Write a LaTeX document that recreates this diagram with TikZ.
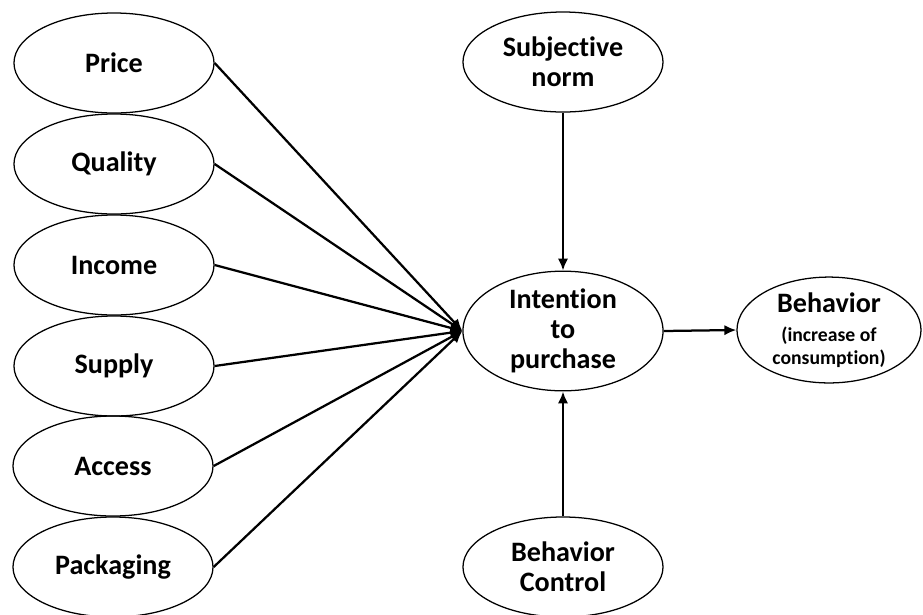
\documentclass[tikz,border=0pt]{standalone}
\usepackage{fontspec}
\setmainfont{Carlito}[Ligatures={NoCommon,NoRare,NoContextual}]
\usepackage{tikz}
\usetikzlibrary{shapes.geometric, positioning, arrows.meta}

\tikzset{
  factor/.style={ellipse, draw, line width=0.9pt, minimum width=5cm, minimum height=2.5cm,
    inner sep=0pt, align=center, font=\fontsize{20}{21.5}\selectfont\bfseries},
  link/.style={line width=1.6pt, -{Latex[length=3mm, width=2.6mm]}}
}
\newcommand{\subline}[1]{{\fontsize{14}{15}\selectfont #1}}

\begin{document}
\begin{tikzpicture}[x=0.025cm, y=-0.025cm]

		\useasboundingbox (0,0) rectangle (923,614);

		% left side factors
		\node[factor] (price) at (114,63) {Price};
		\node[factor] (quality) at (114,164) {Quality};
		\node[factor] (income) at (114,265) {Income};
		\node[factor] (supply) at (114,366) {Supply};
		\node[factor] (access) at (113,466) {Access};
		\node[factor] (packaging) at (113,567) {Packaging};

		% middle and right
		\node[factor] (subjnorm) at (563,62) {Subjective\\norm};
		\node[factor] (intention) at (563,331) {Intention\\to\\purchase};
		\node[factor] (control) at (563,567) {Behavior\\Control};
		\node[factor, minimum width=4.6cm, minimum height=2.6cm] (behavior) at (829,330)
			{Behavior\\[-1pt]\subline{(increase of}\\[-5pt]\subline{consumption)}};

		\foreach \f in {price, quality, income, supply, access, packaging}
			\draw[link] (\f.east) -- (intention.west);

		\draw[link] (subjnorm.south) -- (intention.north);
		\draw[link] (control.north) -- (intention.south);
		\draw[link] (intention.east) -- (behavior.west);
	\end{tikzpicture}
\end{document}
